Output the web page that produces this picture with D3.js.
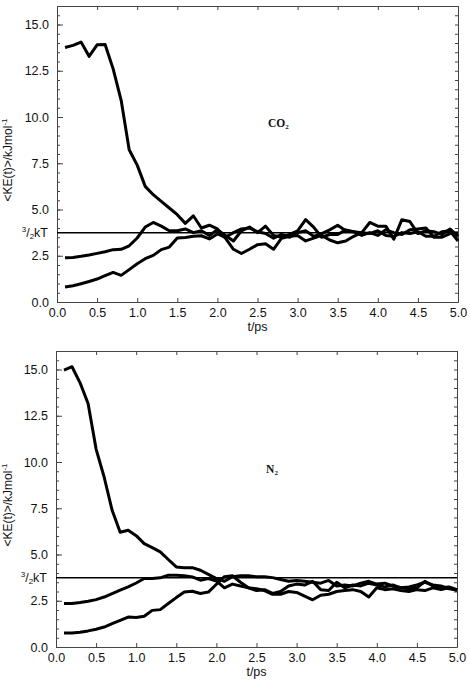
<!DOCTYPE html>
<html>
<head>
<meta charset="utf-8">
<script src="https://cdn.jsdelivr.net/npm/d3@7"></script>
<style>
  body { margin: 0; background: #fff; }
  svg { display: block; }
</style>
</head>
<body>
<div id="chart"></div>
<script>
// time axis, ps
const times = [0.1, 0.2, 0.3, 0.4, 0.5, 0.6, 0.7, 0.8, 0.9, 1.0,
  1.1, 1.2, 1.3, 1.4, 1.5, 1.6, 1.7, 1.8, 1.9, 2.0,
  2.1, 2.2, 2.3, 2.4, 2.5, 2.6, 2.7, 2.8, 2.9, 3.0,
  3.1, 3.2, 3.3, 3.4, 3.5, 3.6, 3.7, 3.8, 3.9, 4.0,
  4.1, 4.2, 4.3, 4.4, 4.5, 4.6, 4.7, 4.8, 4.9, 5.0];

// CO2 panel, <KE(t)> in kJ/mol
const co2Hot = [13.76, 13.87, 14.05, 13.28, 13.9, 13.92, 12.6, 10.9, 8.23, 7.4,
  6.25, 5.8, 5.44, 5.08, 4.72, 4.25, 4.66, 4.0, 4.15, 3.95,
  3.45, 2.85, 2.62, 2.85, 3.1, 3.15, 2.85, 3.45, 3.55, 3.6,
  3.3, 3.45, 3.6, 3.35, 3.2, 3.3, 3.55, 3.75, 3.7, 3.85,
  3.6, 3.55, 3.75, 3.7, 3.8, 3.55, 3.55, 3.8, 3.85, 3.3];
const co2Mid = [2.39, 2.41, 2.47, 2.54, 2.63, 2.72, 2.83, 2.85, 3.04, 3.46,
  4.05, 4.3, 4.1, 3.85, 3.85, 3.95, 3.75, 3.85, 3.6, 3.9,
  3.6, 3.3, 3.85, 4.05, 3.75, 4.1, 3.6, 3.5, 3.65, 3.85,
  4.45, 4.05, 3.5, 3.65, 3.65, 3.9, 3.8, 3.75, 4.3, 4.1,
  4.1, 3.4, 4.45, 4.35, 3.7, 3.85, 3.8, 3.65, 3.95, 3.55];
const co2Cold = [0.81, 0.88, 0.99, 1.11, 1.24, 1.42, 1.6, 1.44, 1.75, 2.07,
  2.34, 2.52, 2.83, 2.97, 3.46, 3.49, 3.55, 3.58, 3.41, 3.68,
  3.5, 3.75, 3.95, 4.0, 3.8, 3.7, 3.45, 3.65, 3.5, 3.75,
  3.85, 3.55, 3.7, 3.9, 4.15, 3.85, 3.8, 3.6, 3.75, 3.6,
  3.9, 3.75, 3.65, 3.9, 3.95, 4.0, 3.5, 3.5, 3.7, 3.75];

// N2 panel
const n2Hot = [14.97, 15.15, 14.28, 13.16, 10.7, 9.19, 7.39, 6.2, 6.31, 6.02,
  5.59, 5.37, 5.14, 4.73, 4.33, 4.29, 4.29, 4.15, 3.93, 3.7,
  3.55, 3.8, 3.85, 3.85, 3.8, 3.8, 3.75, 3.65, 3.55, 3.6,
  3.55, 3.5, 3.45, 3.6, 3.3, 3.35, 3.3, 3.45, 3.55, 3.4,
  3.45, 3.3, 3.2, 3.25, 3.35, 3.5, 3.35, 3.3, 3.15, 3.1];
const n2Mid = [2.35, 2.35, 2.4, 2.47, 2.56, 2.7, 2.89, 3.07, 3.25, 3.46,
  3.7, 3.7, 3.74, 3.88, 3.88, 3.85, 3.79, 3.61, 3.7, 3.57,
  3.2, 3.4, 3.3, 3.2, 3.15, 3.05, 2.85, 2.85, 3.0, 2.95,
  2.75, 2.55, 2.8, 2.85, 3.0, 3.05, 3.1, 3.0, 2.7, 3.2,
  3.1, 3.15, 3.05, 3.0, 3.1, 3.05, 3.2, 3.1, 3.2, 3.05];
const n2Cold = [0.76, 0.76, 0.8, 0.87, 0.96, 1.08, 1.26, 1.44, 1.62, 1.59,
  1.66, 1.98, 2.02, 2.35, 2.67, 2.97, 3.01, 2.89, 2.97, 3.39,
  3.8, 3.85, 3.5, 3.2, 3.05, 3.1, 2.9, 3.0, 3.3, 3.4,
  3.35, 3.55, 3.1, 3.05, 3.5, 3.2, 3.35, 3.3, 3.45, 3.35,
  3.25, 3.35, 3.2, 3.15, 3.2, 3.55, 3.3, 3.2, 3.25, 3.1];

const kT32 = 3.74; // 3/2 kT at 300 K
const xTicks = [0, 0.5, 1, 1.5, 2, 2.5, 3, 3.5, 4, 4.5, 5];
const yTicks = [0, 2.5, 5, 7.5, 10, 12.5, 15];
const yMinor = d3.range(0, 16.01, 0.5);

const width = 470, height = 682;
const font = "'Liberation Sans', Arial, sans-serif";

const svg = d3.select("#chart").append("svg")
  .attr("width", width)
  .attr("height", height);

const panels = [
  { name: "CO", sub: "2", series: [co2Hot, co2Mid, co2Cold],
    left: 57, right: 458, top: 6, bottom: 302, labelT: 2.63, labelV: 9.45 },
  { name: "N", sub: "2", series: [n2Hot, n2Mid, n2Cold],
    left: 56, right: 457, top: 351, bottom: 647, labelT: 2.62, labelV: 9.4 }
];

panels.forEach(p => {
  const x = d3.scaleLinear().domain([0, 5]).range([p.left, p.right]);
  const y = d3.scaleLinear().domain([0, 16]).range([p.bottom, p.top]);
  const g = svg.append("g");

  const styleAxis = sel => {
    sel.selectAll("path.domain").attr("stroke", "#444").attr("stroke-width", 1);
    sel.selectAll(".tick line").attr("stroke", "#444").attr("stroke-width", 1);
    sel.selectAll("text").attr("font-family", font).attr("font-size", 12.5).attr("fill", "#111");
  };

  // axes, ticks pointing inwards
  g.append("g").attr("transform", `translate(0,${p.bottom})`)
    .call(d3.axisBottom(x).tickValues(xTicks).tickFormat(d3.format(".1f"))
      .tickSize(-4).tickSizeOuter(0).tickPadding(6))
    .call(styleAxis);
  g.append("g").attr("transform", `translate(0,${p.top})`)
    .call(d3.axisTop(x).tickValues(xTicks).tickFormat("").tickSize(-4).tickSizeOuter(0))
    .call(styleAxis);
  g.append("g").attr("transform", `translate(${p.left},0)`)
    .call(d3.axisLeft(y).tickValues(yTicks).tickFormat(d3.format(".1f"))
      .tickSize(-6).tickSizeOuter(0).tickPadding(8))
    .call(styleAxis);
  g.append("g").attr("transform", `translate(${p.left},0)`)
    .call(d3.axisLeft(y).tickValues(yMinor).tickFormat("").tickSize(-3).tickSizeOuter(0))
    .call(styleAxis);
  g.append("g").attr("transform", `translate(${p.right},0)`)
    .call(d3.axisRight(y).tickValues(yMinor).tickFormat("").tickSize(-3).tickSizeOuter(0))
    .call(styleAxis);

  // 3/2 kT reference line
  g.append("line")
    .attr("x1", x(0)).attr("x2", x(5))
    .attr("y1", y(kT32)).attr("y2", y(kT32))
    .attr("stroke", "#000").attr("stroke-width", 1.6);

  const kt = g.append("text")
    .attr("x", p.left - 9).attr("y", y(kT32) + 4.5)
    .attr("text-anchor", "end")
    .attr("font-family", font).attr("font-size", 12.5).attr("fill", "#111");
  kt.append("tspan").attr("font-size", 8).attr("dy", -5).text("3");
  kt.append("tspan").attr("dy", 5).text("/");
  kt.append("tspan").attr("font-size", 8).attr("dy", 2).text("2");
  kt.append("tspan").attr("dy", -2).text("kT");

  const line = d3.line()
    .x((d, i) => x(times[i]))
    .y(d => y(d));

  g.selectAll(".curve")
    .data(p.series)
    .enter()
    .append("path")
    .attr("class", "curve")
    .attr("d", line)
    .attr("fill", "none")
    .attr("stroke", "#000")
    .attr("stroke-width", 3)
    .attr("stroke-linejoin", "round");

  // molecule label
  const lab = g.append("text")
    .attr("x", x(p.labelT)).attr("y", y(p.labelV))
    .attr("font-family", "'Liberation Serif', 'Times New Roman', serif")
    .attr("font-weight", "bold").attr("font-size", 11.5).attr("fill", "#111");
  lab.append("tspan").text(p.name);
  lab.append("tspan").attr("font-size", 7).attr("dy", 2).text(p.sub);

  // axis titles
  g.append("text")
    .attr("x", x(2.5)).attr("y", p.bottom + 29)
    .attr("text-anchor", "middle")
    .attr("font-family", font).attr("font-size", 12.5).attr("fill", "#111")
    .text("t/ps");

  const yl = g.append("text")
    .attr("transform", `translate(12,${(p.top + p.bottom) / 2 + 6}) rotate(-90)`)
    .attr("text-anchor", "middle")
    .attr("font-family", font).attr("font-size", 12).attr("fill", "#111");
  yl.append("tspan").text("<KE(t)>/kJmol");
  yl.append("tspan").attr("font-size", 8).attr("dy", -5).text("-1");
});
</script>
</body>
</html>
